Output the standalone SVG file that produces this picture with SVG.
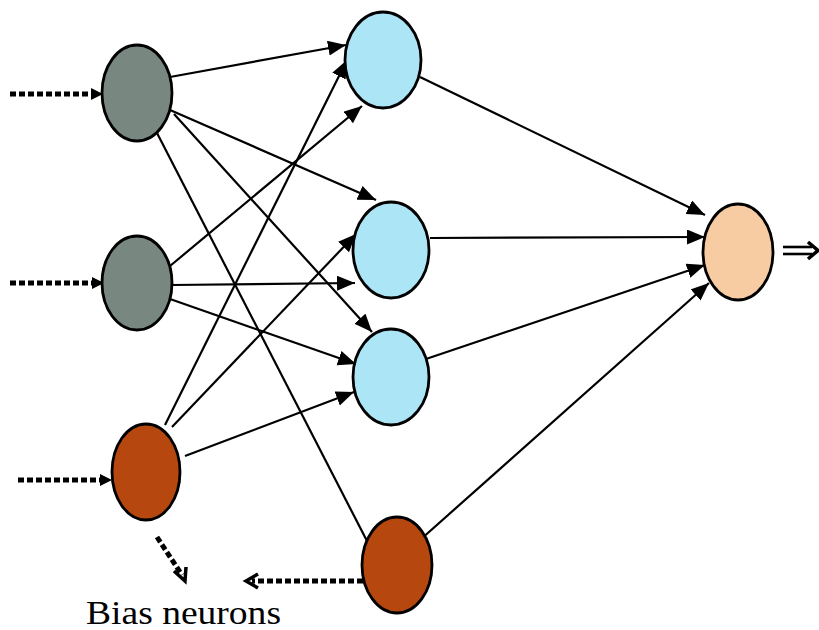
<svg xmlns="http://www.w3.org/2000/svg" width="819" height="630" viewBox="0 0 819 630">
  <style>
    .node { stroke: #000; stroke-width: 2.8; }
    .input { fill: #78877f; }
    .hidden { fill: #ace5f6; }
    .output { fill: #f8cca2; }
    .bias { fill: #b5470f; }
    .edge { stroke: #000; stroke-width: 2.2; fill: none; marker-end: url(#head); }
    .plain { stroke: #000; stroke-width: 2.2; fill: none; }
    .dots { stroke: #000; stroke-width: 5; fill: none; stroke-dasharray: 6 3; }
    .chev { stroke: #000; stroke-width: 3.5; fill: none; stroke-linejoin: miter; }
    .twin { stroke: #000; stroke-width: 2.6; fill: none; }
    .label { font-family: "Liberation Serif", "Times New Roman", serif; font-size: 34px; fill: #000; }
  </style>
  <defs>
    <marker id="head" markerUnits="userSpaceOnUse" markerWidth="20" markerHeight="16" refX="18" refY="7.5" orient="auto">
      <path d="M0,0 L18,7.5 L0,15 z" fill="#000"/>
    </marker>
  </defs>

  <!-- weighted connections -->
  <g id="connectors">
    <line class="edge" x1="170" y1="77" x2="346" y2="45"/>
    <line class="edge" x1="170" y1="110" x2="376" y2="200"/>
    <line class="edge" x1="174" y1="114" x2="372" y2="332"/>
    <line class="plain" x1="157" y1="133" x2="367" y2="541"/>

    <line class="edge" x1="170" y1="266" x2="362" y2="106"/>
    <line class="edge" x1="172" y1="285" x2="355" y2="283"/>
    <line class="edge" x1="170" y1="299" x2="356" y2="364"/>

    <line class="edge" x1="165" y1="425" x2="347" y2="60"/>
    <line class="edge" x1="172" y1="427" x2="356" y2="234"/>
    <line class="edge" x1="185" y1="456" x2="354" y2="392"/>

    <line class="edge" x1="420" y1="77" x2="705" y2="215"/>
    <line class="edge" x1="430" y1="238" x2="705" y2="237"/>
    <line class="edge" x1="423" y1="360" x2="705" y2="265"/>
    <line class="edge" x1="420" y1="540" x2="709" y2="283"/>

    <!-- dotted inputs -->
    <line class="dots" x1="10" y1="94" x2="93" y2="94"/>
    <path d="M91,88 L103,94 L91,100 z" fill="#000"/>
    <line class="dots" x1="10" y1="283" x2="93" y2="283"/>
    <path d="M92,277 L104,283 L92,289 z" fill="#000"/>
    <line class="dots" x1="18" y1="480" x2="101" y2="480"/>
    <path d="M100,474 L112,480 L100,486 z" fill="#000"/>

    <!-- dotted pointers to the caption -->
    <line class="dots" x1="157" y1="537" x2="182" y2="575"/>
    <polyline class="chev" points="174,571 185,581 186,567"/>
    <line class="dots" x1="363" y1="581" x2="252" y2="581"/>
    <polyline class="chev" points="258,574 246,581 258,588"/>

    <!-- output arrow -->
    <line class="twin" x1="783" y1="247" x2="812" y2="247"/>
    <line class="twin" x1="783" y1="254" x2="812" y2="254"/>
    <polyline class="chev" points="808,242 818,250.5 808,259"/>
  </g>

  <g id="in1"><ellipse class="node input" cx="137" cy="93" rx="35" ry="48"/></g>
  <g id="in2"><ellipse class="node input" cx="137" cy="283" rx="35" ry="47"/></g>
  <g id="bias1"><ellipse class="node bias" cx="146" cy="472" rx="34" ry="48"/></g>
  <g id="hid1"><ellipse class="node hidden" cx="383" cy="60" rx="38" ry="48"/></g>
  <g id="hid2"><ellipse class="node hidden" cx="391" cy="250" rx="38" ry="48"/></g>
  <g id="hid3"><ellipse class="node hidden" cx="391" cy="377" rx="38" ry="48"/></g>
  <g id="bias2"><ellipse class="node bias" cx="397" cy="565" rx="35" ry="48"/></g>
  <g id="out"><ellipse class="node output" cx="738" cy="252" rx="35" ry="48"/></g>

  <g id="caption">
    <text class="label" x="86" y="624" textLength="195" lengthAdjust="spacingAndGlyphs">Bias neurons</text>
  </g>
</svg>
